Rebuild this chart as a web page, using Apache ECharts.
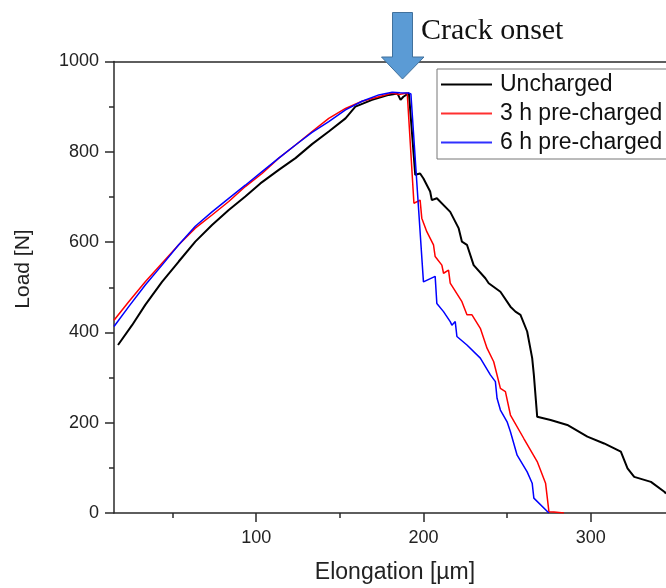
<!DOCTYPE html>
<html>
<head>
<meta charset="utf-8">
<script src="https://cdn.jsdelivr.net/npm/echarts@6/dist/echarts.min.js"></script>
<style>
html,body{margin:0;padding:0;background:#fff;}
#chart{width:666px;height:588px;}
</style>
</head>
<body>
<div id="chart"></div>
<script>
// ---- data ----
const seriesNames = ['Uncharged', '3 h pre-charged', '6 h pre-charged'];

const unchargedX = [17.4, 25.8, 33.7, 43.7, 53.7, 63.6, 73.6, 83.6, 93.5, 102.5, 113.5, 123.5, 133.4, 143.4, 153.4, 159.3, 169.3, 179.3, 184.5, 186.3, 188, 191.3, 192, 195.1, 198, 200, 204, 205, 208, 216, 221, 223, 226, 230, 237, 239, 246, 252, 255, 258, 262, 265, 266, 268, 276, 286, 298, 308, 318, 322, 326, 336, 344, 345];
const unchargedY = [372, 416, 461, 512, 557, 601, 638, 671, 701, 730, 760, 786, 817, 845, 874, 900, 915, 926, 929, 915, 922, 930, 927, 749, 752, 741, 712, 693, 697, 667, 631, 601, 594, 549, 520, 509, 490, 457, 446, 439, 402, 343, 306, 213, 206, 195, 169, 154, 136, 99, 80, 69, 47, 43];

const charged3X = [15, 23.8, 33.7, 43.7, 53.7, 63.6, 73.6, 83.6, 93.5, 103.5, 113.5, 123.5, 133.4, 143.4, 153.4, 163.3, 173.3, 181.3, 185.3, 190.3, 194.3, 195.2, 198, 199, 202, 206, 207, 211, 212, 215, 216, 223, 226, 229, 234, 238, 242, 246, 249, 252, 260, 268, 273, 275, 278, 284];
const charged3Y = [427, 468, 512, 553, 594, 631, 660, 690, 723, 752, 786, 815, 845, 874, 896, 912, 922, 930, 927, 930, 686, 690, 693, 653, 623, 594, 568, 549, 531, 538, 509, 468, 439, 439, 409, 365, 335, 276, 269, 217, 165, 114, 66, 3, 2, 0];

const charged6X = [15, 23.8, 33.7, 43.7, 53.7, 63.6, 73.6, 83.6, 93.5, 103.5, 113.5, 123.5, 133.4, 143.4, 153.4, 163.3, 173.3, 181.3, 186, 191.3, 192.5, 200, 201, 207, 208, 212, 216, 217, 219, 220, 226, 234, 240, 243, 244, 246, 250, 252, 256, 262, 265, 266, 275];
const charged6Y = [413, 457, 505, 549, 594, 635, 667, 697, 726, 756, 786, 815, 843, 867, 893, 912, 926, 932, 931, 930, 928, 512, 516, 524, 464, 446, 424, 416, 424, 391, 372, 343, 306, 291, 254, 228, 202, 180, 128, 91, 66, 33, 0];

const xMin = 15, xMax = 345;
const yMin = 0, yMax = 1000, yInterval = 200;
const xMajorTicks = [100, 200, 300];
const xMinorTicks = [50, 150, 250];

const pairs = (xs, ys) => xs.map((x, i) => [x, ys[i]]);

const chart = echarts.init(document.getElementById('chart'), null, {renderer: 'canvas'});
const FONT = '"Liberation Sans", Arial, sans-serif';
const AX = '#2a2a2a';

chart.setOption({
  animation: false,
  backgroundColor: '#fff',
  grid: {left: 114, top: 61.5, width: 552, height: 451.5, containLabel: false},
  xAxis: [{
    type: 'value', min: xMin, max: xMax,
    axisLine: {show: true, onZero: false, lineStyle: {color: AX, width: 1.5}},
    axisTick: {show: true, inside: false, length: 9, customValues: xMajorTicks,
      lineStyle: {color: AX, width: 1.5}},
    splitLine: {show: false},
    axisLabel: {
      show: true, margin: 16, color: '#222', fontSize: 18, fontFamily: FONT,
      customValues: xMajorTicks, formatter: v => String(v)
    }
  }, {
    type: 'value', min: xMin, max: xMax, position: 'top',
    axisLine: {show: true, onZero: false, lineStyle: {color: AX, width: 1.5}},
    axisTick: {show: false}, axisLabel: {show: false}, splitLine: {show: false}
  }, {
    type: 'value', min: xMin, max: xMax, position: 'bottom', offset: 0,
    axisLine: {show: false, onZero: false},
    axisTick: {show: true, inside: false, length: 5, customValues: xMinorTicks,
      lineStyle: {color: AX, width: 1.5}},
    axisLabel: {show: false}, splitLine: {show: false}
  }],
  yAxis: {
    type: 'value', min: yMin, max: yMax, interval: yInterval,
    axisLine: {show: true, onZero: false, lineStyle: {color: AX, width: 1.5}},
    axisTick: {show: true, length: 9, lineStyle: {color: AX, width: 1.5}},
    minorTick: {show: true, splitNumber: 2, length: 5, lineStyle: {color: AX, width: 1.5}},
    splitLine: {show: false},
    axisLabel: {margin: 15, color: '#222', fontSize: 18, fontFamily: FONT, formatter: v => String(v)}
  },
  legend: {
    orient: 'vertical', left: 437, top: 69,
    icon: 'rect', itemWidth: 51, itemHeight: 2, itemGap: 6,
    padding: [4, 20, 5, 4],
    borderColor: '#777', borderWidth: 1,
    textStyle: {fontSize: 23, fontFamily: FONT, color: '#111', lineHeight: 23, padding: [0, 0, 0, 3]},
    data: seriesNames
  },
  series: [
    {name: seriesNames[0], type: 'line', data: pairs(unchargedX, unchargedY), symbol: 'none',
      lineStyle: {color: '#000', width: 2}, itemStyle: {color: '#000'}, z: 3},
    {name: seriesNames[1], type: 'line', data: pairs(charged3X, charged3Y), symbol: 'none',
      lineStyle: {color: '#ff0000', width: 1.5}, itemStyle: {color: '#ff3030'}, z: 4},
    {name: seriesNames[2], type: 'line', data: pairs(charged6X, charged6Y), symbol: 'none',
      lineStyle: {color: '#0000ff', width: 1.5}, itemStyle: {color: '#3030ff'}, z: 5}
  ],
  graphic: [
    {type: 'polygon', z: 100,
      shape: {points: [[392.5, 12.5], [412.5, 12.5], [412.5, 57], [424, 57], [402.5, 79], [381.5, 57], [392.5, 57]]},
      style: {fill: '#5b9bd5', stroke: '#41719c', lineWidth: 1}},
    {type: 'text', z: 100, x: 421, y: 31,
      style: {text: 'Crack onset', fontSize: 30, fontFamily: '"Liberation Serif", "Times New Roman", serif',
        fill: '#111', textAlign: 'left', textVerticalAlign: 'middle'}},
    {type: 'text', z: 100, x: 23, y: 269, rotation: Math.PI / 2,
      style: {text: 'Load [N]', fontSize: 21, fontFamily: FONT, fill: '#222',
        textAlign: 'center', textVerticalAlign: 'middle'}},
    {type: 'text', z: 100, x: 395, y: 573,
      style: {text: 'Elongation [µm]', fontSize: 23, fontFamily: FONT, fill: '#222',
        textAlign: 'center', textVerticalAlign: 'middle'}}
  ]
});
</script>
</body>
</html>
